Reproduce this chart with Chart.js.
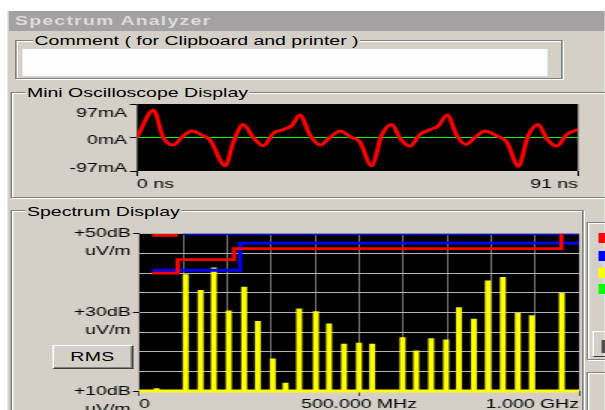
<!DOCTYPE html>
<html><head><meta charset="utf-8">
<script src="https://cdn.jsdelivr.net/npm/chart.js@4.4.1/dist/chart.umd.min.js"></script>
<style>
html,body{margin:0;padding:0;width:605px;height:410px;overflow:hidden;background:#fff;}
#wrap{position:absolute;left:0;top:0;width:403.333px;height:410px;transform:scaleX(1.5);transform-origin:0 0;
  font-family:"Liberation Sans",Arial,sans-serif;font-size:13px;color:#000;}
.a{position:absolute;box-sizing:border-box;}
#win{left:5.33px;top:11px;width:398px;height:399px;background:#d4d0c8;}
#title{left:6px;top:11px;width:397.333px;height:20px;background:#a3a1a3;color:#dcdad8;font-weight:bold;letter-spacing:0.8px;line-height:20px;}
#title span{position:absolute;left:4px;top:0;white-space:nowrap;}
.grp{position:absolute;box-sizing:border-box;border:1px solid #808080;box-shadow:1px 1px 0 #fff, inset 1px 1px 0 #fff;}
.gl{position:absolute;background:#d4d0c8;padding:0 1px;line-height:15px;white-space:nowrap;}
#field{left:14.67px;top:49px;width:350.67px;height:27px;background:#fefefe;}
#rms{left:34.67px;top:345px;width:54px;height:24px;background:#d4d0c8;border-top:1px solid #fff;border-left:1px solid #fff;
  border-right:1px solid #404040;border-bottom:1px solid #404040;box-shadow:inset -1px -1px 0 #808080;text-align:center;line-height:22px;letter-spacing:0.3px;z-index:5;}
.sq{position:absolute;left:398.67px;width:8px;height:10px;}
#osc{left:20px;top:96px;width:370px;height:100px;}
#spec{left:20px;top:222px;width:370px;height:200px;}
</style></head>
<body>
<div id="wrap">
  <div class="a" id="win"></div>
  <div class="a" id="title"><span>Spectrum Analyzer</span></div>

  <div class="grp" style="left:10px;top:40px;width:364.67px;height:39px;">
    <span class="gl" style="left:11px;top:-8.5px;">Comment ( for Clipboard and printer )</span>
  </div>
  <div class="a" id="field"></div>

  <div class="grp" style="left:6.67px;top:92px;width:420px;height:106px;">
    <span class="gl" style="left:9.3px;top:-8.5px;">Mini Oscilloscope Display</span>
  </div>

  <div class="grp" style="left:6.67px;top:210px;width:382px;height:260px;">
    <span class="gl" style="left:9.3px;top:-7px;">Spectrum Display</span>
  </div>

  <div class="grp" style="left:390.67px;top:222px;width:30px;height:138px;"></div>
  <div class="grp" style="left:390.67px;top:372px;width:30px;height:60px;"></div>
  <div class="a" style="left:394.67px;top:331px;width:20px;height:26px;border-top:1px solid #fff;border-left:1px solid #fff;border-right:1px solid #404040;border-bottom:1px solid #404040;"></div>
  <div class="a" style="left:401px;top:340px;width:4px;height:13px;background:#505050;"></div>
  <div class="sq" style="top:233px;background:#ff0000;"></div>
  <div class="sq" style="top:251px;background:#0000ff;"></div>
  <div class="sq" style="top:268px;background:#ffff00;"></div>
  <div class="sq" style="top:284px;background:#00ff00;"></div>

  <div class="a" id="osc"><canvas id="oscCanvas"></canvas></div>
  <div class="a" id="spec"><canvas id="specCanvas"></canvas></div>
  <div class="a" id="rms">RMS</div>
</div>
<script>
// ---------- Oscilloscope data ----------
const oscTimeNs = [0, 3.4, 5.4, 7.5, 9.2, 11.3, 13.4, 15.1, 18.2, 19.9, 21.9, 24.0, 26.1, 28.1, 30.2, 31.9, 33.6, 35.7, 37.8, 39.8, 41.9, 44.0, 46.0, 48.4, 50.5, 52.6, 54.3, 56.3, 58.4, 60.5, 62.2, 64.0, 66.0, 67.9, 69.7, 71.8, 74.2, 76.3, 78.7, 80.7, 82.8, 84.5, 86.6, 88.7, 91.0];
const oscCurrentmA = [0, 79, 0, -22, 0, 19, 7, -8, -82, -13, 38, 0, -24, 12, 23, 34, 65, 7, -22, 0, 19, 2, -13, -82, 7, 38, -3, -25, 9, 23, 34, 65, 5, -20, 0, 19, 5, -13, -83, 5, 38, -3, -25, 9, 23];
const oscXTicks = [0, 91];
const oscXLabels = ['0 ns', '91 ns'];
const oscYTicks = [-97, 0, 97];
const oscYLabels = ['-97mA', '0mA', '97mA'];

// ---------- Spectrum data ----------
const specFreqMHz = [40, 106, 140, 170, 204, 239, 270, 304, 333, 364, 402, 432, 466, 500, 530, 599, 630, 664, 698, 727, 761, 793, 827, 861, 893, 961];
const specLevelDb = [10.6, 39.6, 35.6, 41.3, 30.4, 36.4, 27.7, 18.2, 12.0, 30.9, 30.2, 27.1, 21.9, 22.2, 21.9, 23.6, 20.2, 23.3, 23.0, 31.2, 28.3, 38.0, 38.9, 29.8, 29.2, 34.9];
const floorMHz = [0, 1000];
const floorDb = [10, 10];
const limitRedMHz = [30, 88, 88, 216, 216, 960, 960];
const limitRedDb = [40.0, 40.0, 43.4, 43.4, 46.2, 46.2, 54];
const limitRedTopMHz = [30, 88];
const limitRedTopDb = [49.6, 49.6];
const limitBlueMHz = [30, 230, 230, 1000];
const limitBlueDb = [40.7, 40.7, 47.6, 47.6];
const limitBlueTopMHz = [100, 1000];
const limitBlueTopDb = [50, 50];
const specXTicks = [0, 500, 1000];
const specXLabels = ['0', '500.000 MHz', '1.000 GHz'];
const specYTicks = [10, 30, 50];
const specYLabels = ['+10dB', '+30dB', '+50dB'];
const specYUnit = 'uV/m';

const pts = (xs, ys) => xs.map((x, i) => ({x: x, y: ys[i]}));

Chart.defaults.font.family = '"Liberation Sans", Arial, sans-serif';
Chart.defaults.font.size = 13;
Chart.defaults.color = '#000';
Chart.defaults.animation = false;

const plotBg = {
  id: 'plotBg',
  beforeDraw(chart) {
    const {ctx, chartArea: a} = chart;
    ctx.save();
    ctx.fillStyle = '#000';
    ctx.fillRect(a.left, a.top, a.width, a.height);
    ctx.restore();
  }
};

const fixY = w => s => { s.width = w; s.paddingTop = 0; s.paddingBottom = 0; };
const fixX = h => s => { s.height = h; s.paddingLeft = 0; s.paddingRight = 0; };

new Chart(document.getElementById('oscCanvas'), {
  type: 'line',
  data: {
    datasets: [{
      label: 'Current',
      data: pts(oscTimeNs, oscCurrentmA),
      borderColor: '#ff0000',
      borderWidth: 3,
      pointRadius: 0,
      cubicInterpolationMode: 'monotone'
    }]
  },
  options: {
    responsive: true, maintainAspectRatio: false,
    layout: {padding: {top: 8, right: 4.67, left: 0, bottom: 0}},
    plugins: {legend: {display: false}, tooltip: {enabled: false}},
    scales: {
      x: {
        type: 'linear', min: 0, max: 91,
        afterBuildTicks: s => { s.ticks = oscXTicks.map(v => ({value: v})); },
        afterFit: fixX(25),
        border: {display: false},
        grid: {drawOnChartArea: false, tickLength: 5, tickColor: '#000', color: '#000'},
        ticks: {align: 'inner', padding: 1, maxRotation: 0, autoSkip: false,
          callback: v => oscXLabels[oscXTicks.indexOf(v)]}
      },
      y: {
        min: -97, max: 97,
        afterBuildTicks: s => { s.ticks = oscYTicks.map(v => ({value: v})); },
        afterFit: fixY(71.33),
        border: {display: false},
        grid: {
          color: c => (c.tick && c.tick.value === 0) ? '#00ff00' : 'rgba(0,0,0,0)',
          tickColor: '#000', tickLength: 4.67, lineWidth: 1
        },
        ticks: {
          padding: 2, labelOffset: 3, font: {size: 13, lineHeight: '12px'},
          callback: v => {
            const t = oscYLabels[oscYTicks.indexOf(v)];
            if (v > 0) return ['', t];
            if (v < 0) return [t, ''];
            return t;
          }
        }
      }
    }
  },
  plugins: [plotBg]
});

const labeled = (arr) => c => (c.tick && arr.includes(c.tick.value)) ? '#000' : 'rgba(0,0,0,0)';

new Chart(document.getElementById('specCanvas'), {
  type: 'bar',
  data: {
    datasets: [
      {type: 'line', label: 'Limit red', data: pts(limitRedMHz, limitRedDb), borderColor: '#ff0000', borderWidth: 2.8, pointRadius: 0, order: 1},
      {type: 'line', label: 'Limit red top', data: pts(limitRedTopMHz, limitRedTopDb), borderColor: '#ff0000', borderWidth: 2.8, pointRadius: 0, order: 1},
      {type: 'line', label: 'Limit blue', data: pts(limitBlueMHz, limitBlueDb), borderColor: '#0000ff', borderWidth: 2.8, pointRadius: 0, order: 2},
      {type: 'line', label: 'Limit blue top', data: pts(limitBlueTopMHz, limitBlueTopDb), borderColor: '#0000ff', borderWidth: 2.8, pointRadius: 0, order: 2},
      {type: 'line', label: 'Floor', data: pts(floorMHz, floorDb), borderColor: '#ffff00', borderWidth: 3, pointRadius: 0, clip: 4, order: 3},
      {type: 'bar', label: 'Spectrum', data: pts(specFreqMHz, specLevelDb), backgroundColor: '#ffff00', barThickness: 3.3, base: 10, order: 4}
    ]
  },
  options: {
    responsive: true, maintainAspectRatio: false,
    layout: {padding: {top: 11.7, right: 4, left: 0, bottom: 0}},
    plugins: {legend: {display: false}, tooltip: {enabled: false}},
    scales: {
      x: {
        type: 'linear', min: 0, max: 1000, offset: false,
        afterFit: fixX(31),
        border: {display: false},
        grid: {offset: false, color: '#b4b4b4', lineWidth: 0.67, tickLength: 5, tickColor: labeled(specXTicks)},
        ticks: {stepSize: 100, align: 'inner', padding: 1, maxRotation: 0, autoSkip: false,
          callback: v => { const i = specXTicks.indexOf(v); return i >= 0 ? specXLabels[i] : ''; }}
      },
      y: {
        min: 10, max: 50,
        afterFit: fixY(72.67),
        border: {display: false},
        grid: {color: '#b4b4b4', lineWidth: 1, tickLength: 4, tickColor: labeled(specYTicks)},
        ticks: {stepSize: 5, padding: 1.5, labelOffset: 9, autoSkip: false, font: {size: 13, lineHeight: '18px'},
          callback: v => { const i = specYTicks.indexOf(v); return i >= 0 ? [specYLabels[i], specYUnit] : ''; }}
      }
    }
  },
  plugins: [plotBg]
});
</script>
</body></html>
